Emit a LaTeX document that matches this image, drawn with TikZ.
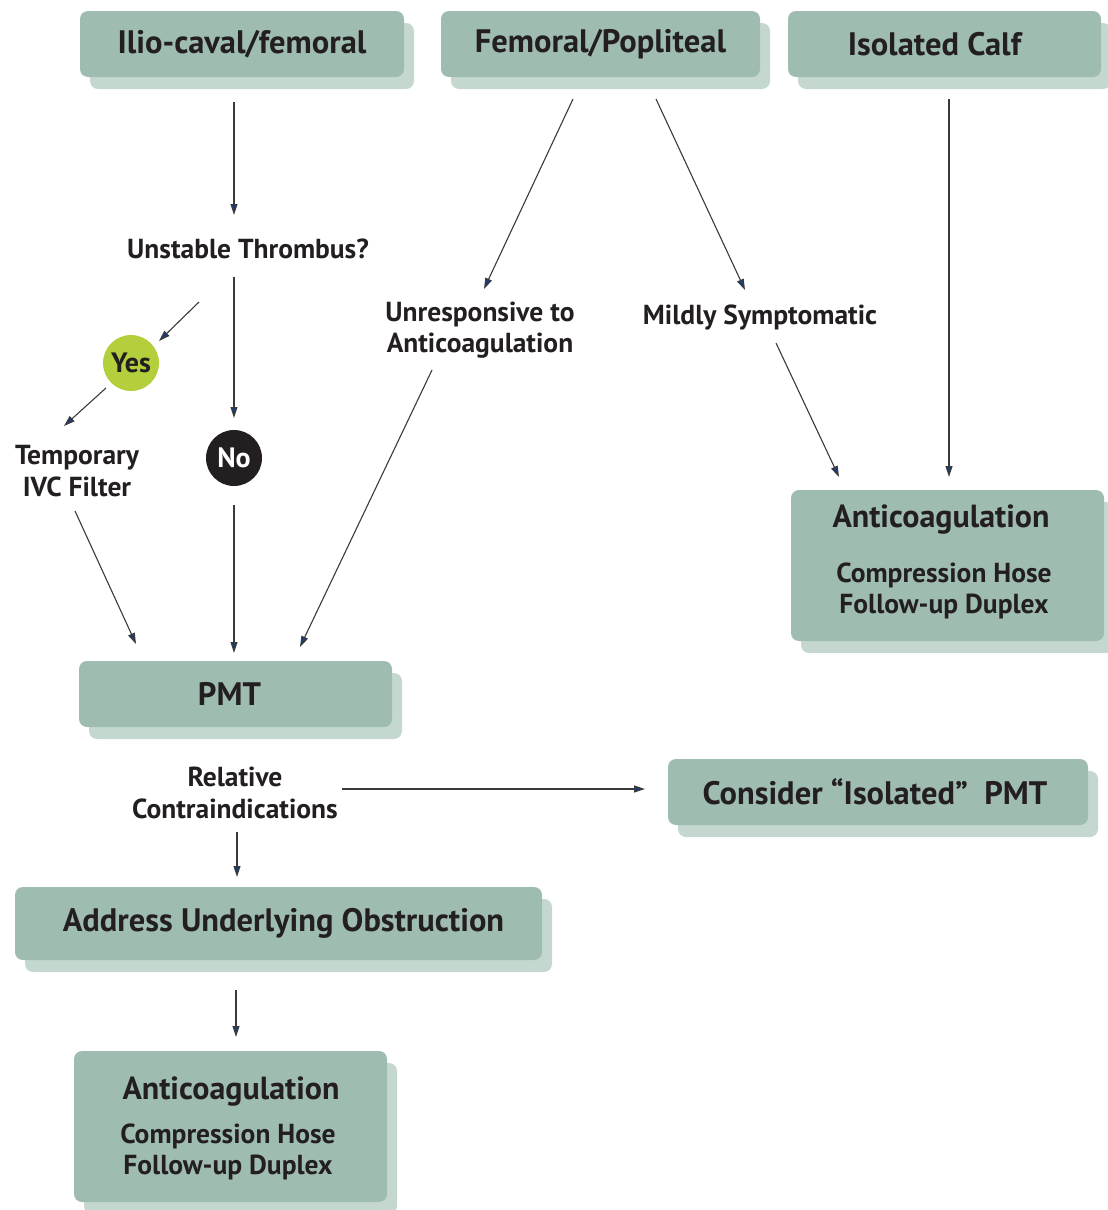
\documentclass[tikz,border=0pt]{standalone}
\usepackage{fontspec}
\setmainfont{PT Sans}
\usetikzlibrary{arrows.meta,shadows}
\definecolor{boxc}{HTML}{9FBCB0}
\definecolor{shadc}{HTML}{C4D8CF}
\definecolor{ink}{HTML}{231F20}
\definecolor{linec}{HTML}{3A3A3A}
\definecolor{tipc}{HTML}{1E3C78}
\definecolor{yesc}{HTML}{B3CF3B}
\tikzset{
  box/.style={fill=boxc, rounded corners=8pt, inner sep=0pt,
    drop shadow={shadow xshift=10pt, shadow yshift=-12pt, fill=shadc, opacity=1},
    text=ink, font=\bfseries\fontsize{32.5}{34}\selectfont},
  ttl/.style={text=ink, inner sep=0pt, font=\bfseries\fontsize{32}{34}\selectfont},
  lbl/.style={text=ink, font=\bfseries\fontsize{27.5}{31.5}\selectfont, align=center, inner sep=0pt},
  arr/.style={draw=linec, line width=1.1pt,
    -{Triangle[length=11pt,width=7pt,fill=tipc]}},
  circ/.style={circle, minimum size=56pt, inner sep=0pt, font=\bfseries\fontsize{28}{30}\selectfont},
}
\begin{document}
\begin{tikzpicture}[x=1pt,y=-1pt]
\useasboundingbox (0,0) rectangle (1108,1210);
% boxes
\node[box, minimum width=324pt, minimum height=66pt] (ilio) at (242,44) {Ilio-caval/femoral};
\node[box, minimum width=319pt, minimum height=66pt] (fem) at (600.5,44) {Femoral/Popliteal};
\node[box, minimum width=313pt, minimum height=66pt] (calf) at (944.5,44) {\hspace*{-20pt}Isolated Calf};
\node[box, minimum width=313pt, minimum height=151pt] (acR) at (947.5,565.5) {};
\node[box, minimum width=313pt, minimum height=66pt] (pmt) at (235.5,694) {\hspace*{-12pt}PMT};
\node[box, minimum width=420pt, minimum height=66pt] (cons) at (878,792) {\hspace*{-6pt}Consider ``Isolated''\ \ PMT};
\node[box, minimum width=527pt, minimum height=73pt] (addr) at (278.5,923.5) {\hspace*{10pt}Address Underlying Obstruction};
\node[box, minimum width=313pt, minimum height=151pt] (acB) at (230.5,1126.5) {};
% box inner texts
\node[ttl] (acRt) at (941,520) {Anticoagulation};
\node[lbl] (acRs) at (944,591) {Compression Hose\\Follow-up Duplex};
\node[ttl] (acBt) at (231,1092) {Anticoagulation};
\node[lbl] (acBs) at (228,1152) {Compression Hose\\Follow-up Duplex};
% labels
\node[lbl] (unst) at (248,249) {Unstable Thrombus?};
\node[lbl] (temp) at (77,471) {Temporary\\IVC Filter};
\node[lbl] (unre) at (480,330) {Unresponsive to\\Anticoagulation};
\node[lbl] (mild) at (760,317) {Mildly Symptomatic};
\node[lbl] (rel) at (235,793) {Relative\\Contraindications};
\node[circ, fill=yesc, text=ink] (yes) at (131,363) {Yes};
\node[circ, fill=ink, text=white] (no) at (234,458) {No};
% connector endpoints
\coordinate (a1s) at (234,102); \coordinate (a1e) at (234,215);
\coordinate (a2s) at (199,302); \coordinate (a2e) at (159,341);
\coordinate (a3s) at (106,388); \coordinate (a3e) at (64,426);
\coordinate (a4s) at (234,277); \coordinate (a4e) at (234,418);
\coordinate (a5s) at (234,505); \coordinate (a5e) at (234,653);
\coordinate (a6s) at (75,511);  \coordinate (a6e) at (136,644);
\coordinate (a7s) at (432,370); \coordinate (a7e) at (300,647);
\coordinate (a8s) at (573,99);  \coordinate (a8e) at (484,289);
\coordinate (a9s) at (656,99);  \coordinate (a9e) at (745,290);
\coordinate (a10s) at (776,343); \coordinate (a10e) at (839,477);
\coordinate (a11s) at (949,99); \coordinate (a11e) at (949,477);
\coordinate (a12s) at (342,789); \coordinate (a12e) at (645,789);
\coordinate (a13s) at (237,832); \coordinate (a13e) at (237,877);
\coordinate (a14s) at (236,990); \coordinate (a14e) at (236,1037);
\foreach \i in {1,...,14} {\draw[arr] (a\i s) -- (a\i e);}
\end{tikzpicture}
\end{document}
